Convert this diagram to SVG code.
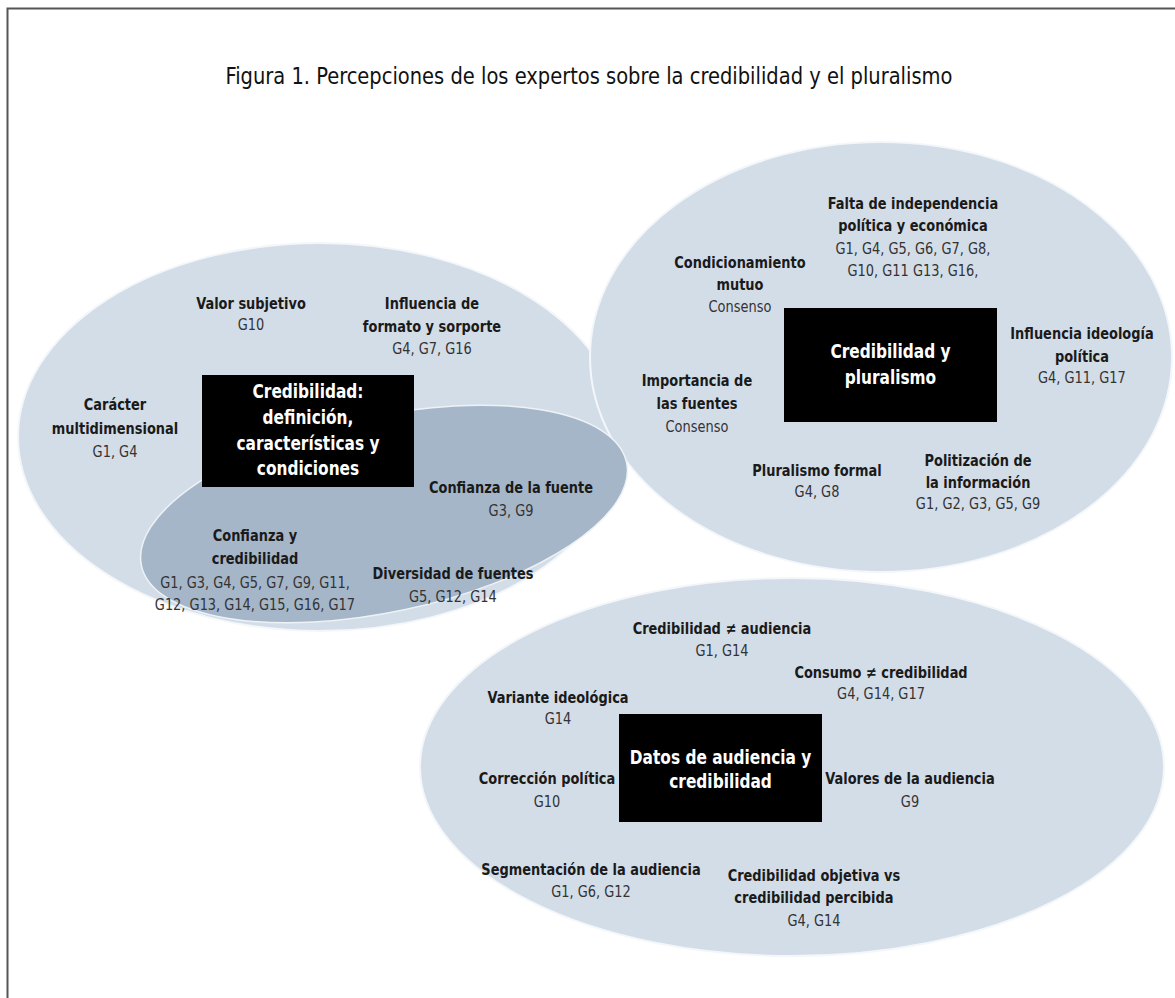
<svg xmlns="http://www.w3.org/2000/svg" width="1175" height="998" viewBox="0 0 1175 998">
<style>
text{text-anchor:middle;font-family:"Liberation Sans Narrow","DejaVu Sans Condensed","Liberation Sans",sans-serif}
.h{font-weight:bold;font-size:16px;fill:#1a1a1a}
.g{font-size:16px;fill:#333}
.b{font-weight:bold;font-size:19px;fill:#fff}
.lt{fill:#d3dde8;stroke:#f4f7fa;stroke-width:2}
.dk{fill:#a5b6c9;stroke:#eef2f6;stroke-width:1.5}
.box{fill:#000}
</style>
<rect x="7.5" y="8.5" width="1180" height="1000" fill="#fff" stroke="#555" stroke-width="2"/>
<text x="589" y="84" style="font-family:'DejaVu Sans Condensed',sans-serif;font-size:23px;fill:#111" textLength="727" lengthAdjust="spacingAndGlyphs">Figura 1. Percepciones de los expertos sobre la credibilidad y el pluralismo</text>
<g id="shapes">
<ellipse class="lt" cx="320" cy="437" rx="302" ry="194"/>
<ellipse class="lt" cx="881" cy="357" rx="291" ry="215"/>
<ellipse class="dk" cx="384" cy="514" rx="248" ry="98" transform="rotate(-12 384 514)"/>
<ellipse class="lt" cx="792" cy="767" rx="372" ry="189"/>
</g>
<g id="connectors"></g>
<g id="n1"><rect class="box" x="202" y="375" width="212" height="112"/></g>
<g id="n2"><rect class="box" x="784" y="308" width="213" height="114"/></g>
<g id="n3"><rect class="box" x="619" y="714" width="203" height="108"/></g>
<g id="labels" transform="scale(0.9 1)">
<g id="n1-t"><text class="b" x="342.2" y="398">Credibilidad:</text><text class="b" x="342.2" y="424">definición,</text><text class="b" x="342.2" y="450">características y</text><text class="b" x="342.2" y="475">condiciones</text></g>
<g id="n1a"><text class="h" x="278.9" y="309">Valor subjetivo</text><text class="g" x="278.9" y="330">G10</text></g>
<g id="n1b"><text class="h" x="480" y="309">Influencia de</text><text class="h" x="480" y="332">formato y sorporte</text><text class="g" x="480" y="354">G4, G7, G16</text></g>
<g id="n1c"><text class="h" x="127.8" y="410">Carácter</text><text class="h" x="127.8" y="434">multidimensional</text><text class="g" x="127.8" y="457">G1, G4</text></g>
<g id="n1d"><text class="h" x="567.8" y="493">Confianza de la fuente</text><text class="g" x="567.8" y="516">G3, G9</text></g>
<g id="n1e"><text class="h" x="283.3" y="541">Confianza y</text><text class="h" x="283.3" y="564">credibilidad</text><text class="g" x="283.3" y="588">G1, G3, G4, G5, G7, G9, G11,</text><text class="g" x="283.3" y="610">G12, G13, G14, G15, G16, G17</text></g>
<g id="n1f"><text class="h" x="503.3" y="579">Diversidad de fuentes</text><text class="g" x="503.3" y="602">G5, G12, G14</text></g>
<g id="n2-t"><text class="b" x="989.4" y="358">Credibilidad y</text><text class="b" x="989.4" y="384">pluralismo</text></g>
<g id="n2a"><text class="h" x="1014.4" y="209">Falta de independencia</text><text class="h" x="1014.4" y="231">política y económica</text><text class="g" x="1014.4" y="254">G1, G4, G5, G6, G7, G8,</text><text class="g" x="1014.4" y="276">G10, G11 G13, G16,</text></g>
<g id="n2b"><text class="h" x="822.2" y="268">Condicionamiento</text><text class="h" x="822.2" y="290">mutuo</text><text class="g" x="822.2" y="312">Consenso</text></g>
<g id="n2c"><text class="h" x="1202.2" y="339">Influencia ideología</text><text class="h" x="1202.2" y="362">política</text><text class="g" x="1202.2" y="383">G4, G11, G17</text></g>
<g id="n2d"><text class="h" x="774.4" y="386">Importancia de</text><text class="h" x="774.4" y="409">las fuentes</text><text class="g" x="774.4" y="432">Consenso</text></g>
<g id="n2e"><text class="h" x="907.8" y="476">Pluralismo formal</text><text class="g" x="907.8" y="497">G4, G8</text></g>
<g id="n2f"><text class="h" x="1086.7" y="466">Politización de</text><text class="h" x="1086.7" y="488">la información</text><text class="g" x="1086.7" y="509">G1, G2, G3, G5, G9</text></g>
<g id="n3-t"><text class="b" x="800.6" y="764">Datos de audiencia y</text><text class="b" x="800.6" y="788">credibilidad</text></g>
<g id="n3a"><text class="h" x="802.2" y="634">Credibilidad ≠ audiencia</text><text class="g" x="802.2" y="656">G1, G14</text></g>
<g id="n3b"><text class="h" x="978.9" y="678">Consumo ≠ credibilidad</text><text class="g" x="978.9" y="699">G4, G14, G17</text></g>
<g id="n3c"><text class="h" x="620" y="703">Variante ideológica</text><text class="g" x="620" y="724">G14</text></g>
<g id="n3d"><text class="h" x="607.8" y="784">Corrección política</text><text class="g" x="607.8" y="807">G10</text></g>
<g id="n3e"><text class="h" x="1011.1" y="784">Valores de la audiencia</text><text class="g" x="1011.1" y="807">G9</text></g>
<g id="n3f"><text class="h" x="656.7" y="875">Segmentación de la audiencia</text><text class="g" x="656.7" y="897">G1, G6, G12</text></g>
<g id="n3g"><text class="h" x="904.4" y="881">Credibilidad objetiva vs</text><text class="h" x="904.4" y="903">credibilidad percibida</text><text class="g" x="904.4" y="926">G4, G14</text></g>
</g>
</svg>
